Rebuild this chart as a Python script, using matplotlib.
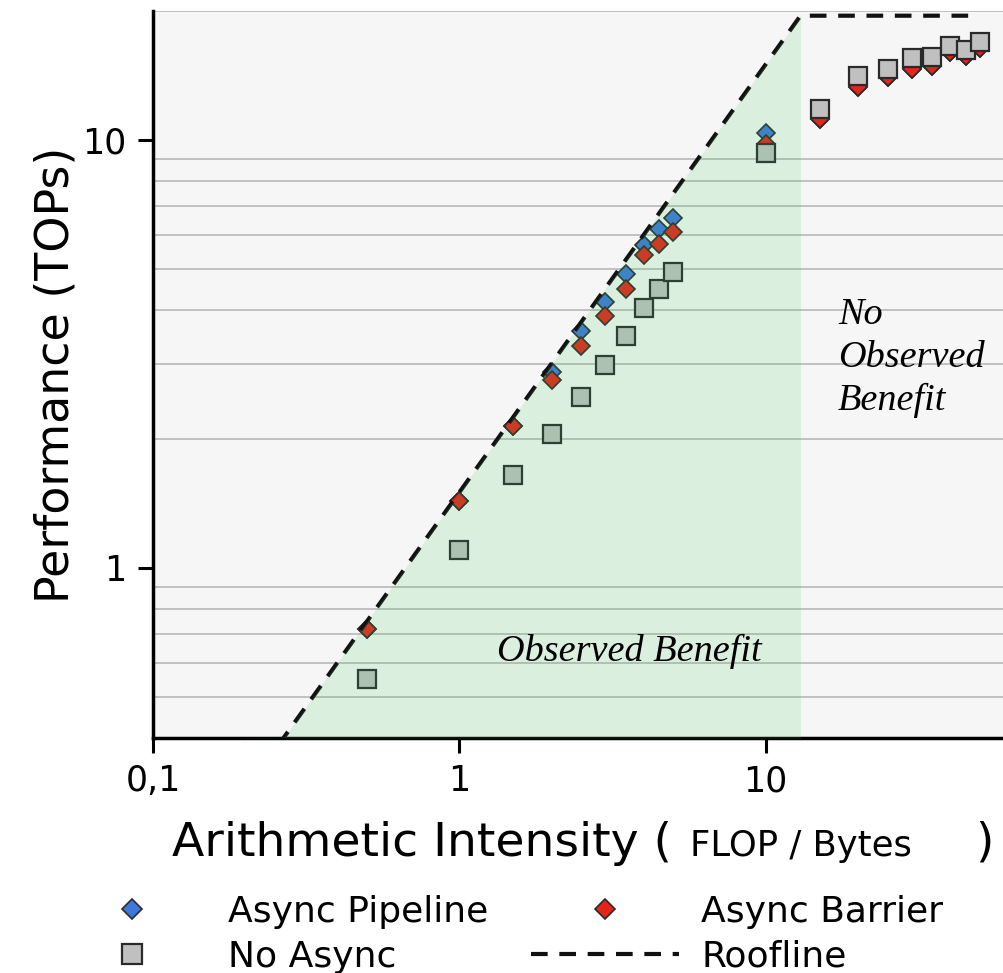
import numpy as np
import matplotlib
matplotlib.use("Agg")
import matplotlib.pyplot as plt
from matplotlib.ticker import NullFormatter, LogLocator

# data (x = FLOP/Byte, y = TOPs)
ai = [0.5, 1, 1.5, 2, 2.5, 3, 3.5, 4, 4.5, 5, 10, 15, 20, 25, 30, 35, 40, 45, 50]
pipeline = [0.72, 1.43, 2.14, 2.87, 3.57, 4.17, 4.86, 5.68, 6.18, 6.55, 10.35,
            11.2, 13.3, 14.0, 14.6, 14.9, 16.0, 15.7, 16.4]
barrier = [0.72, 1.43, 2.14, 2.74, 3.29, 3.87, 4.49, 5.38, 5.72, 6.10, 9.8,
           11.2, 13.3, 14.0, 14.6, 14.9, 16.0, 15.7, 16.4]
no_async = [0.55, 1.10, 1.65, 2.05, 2.51, 2.98, 3.48, 4.05, 4.47, 4.91, 9.3,
            11.8, 14.1, 14.6, 15.5, 15.6, 16.6, 16.2, 16.9]

roof_ai = [0.2, 13.0, 50.0]
roof_perf = [0.3, 19.5, 19.5]

W, H = 1004, 973
fig = plt.figure(figsize=(W / 100, H / 100), dpi=100)
ax = fig.add_axes([153 / W, 1 - 738 / H, 1 - 153 / W, (738 - 11) / H])
ax.set_facecolor("#f6f6f6")
ax.set_xscale("log")
ax.set_yscale("log")
ax.set_xlim(0.1, 60)
ax.set_ylim(0.4, 20)

ax.yaxis.set_minor_locator(LogLocator(subs=np.arange(2, 10)))
ax.yaxis.set_minor_formatter(NullFormatter())
ax.xaxis.set_minor_formatter(NullFormatter())
ax.yaxis.grid(True, which="minor", color="#bdbdbd", lw=1.3)
ax.set_axisbelow(True)

ax.set_xticks([0.1, 1, 10], ["0,1", "1", "10"])
ax.set_yticks([1, 10], ["1", "10"])
ax.tick_params(which="major", length=11, width=2.2, labelsize=25, pad=8)
ax.tick_params(which="minor", length=0)

for s in ["top", "right"]:
    ax.spines[s].set_visible(False)
for s in ["left", "bottom"]:
    ax.spines[s].set_linewidth(2.5)

edge = "#2a2a2a"
h1, = ax.plot(ai, pipeline, "D", ms=9.5, mfc="#3f78dc", mec=edge, mew=1.2,
              ls="none", label="Async Pipeline", zorder=3)
h2, = ax.plot(ai, barrier, "D", ms=9.5, mfc="#e3241b", mec=edge, mew=1.2,
              ls="none", label="Async Barrier", zorder=4)
h3, = ax.plot(ai, no_async, "s", ms=13, mfc="#c0c0c0", mec=edge, mew=1.6,
              ls="none", label="No Async", zorder=5)
h4, = ax.plot(roof_ai, roof_perf, color="#111111", lw=3, dashes=(4, 2.8),
              label="Roofline", zorder=6)

# shaded region under the memory-bound part of the roofline
ax.fill_between(roof_ai[:2], roof_perf[:2], 0.4, color="#3cc85a",
                alpha=0.15, lw=0, zorder=7)

ax.set_ylabel("Performance (TOPs)", fontsize=33, labelpad=3)

fig.text(172 / W, 1 - 856 / H, "Arithmetic Intensity (", fontsize=34,
         va="baseline", ha="left")
fig.text(690 / W, 1 - 856 / H, "FLOP / Bytes", fontsize=25.5,
         va="baseline", ha="left")
fig.text(975 / W, 1 - 856 / H, ")", fontsize=34, va="baseline", ha="left")

serif = ["Liberation Serif", "DejaVu Serif"]
fig.text(497 / W, 1 - 651 / H, "Observed Benefit", fontsize=27.5,
         family=serif, style="italic", va="center", ha="left")
fig.text(838 / W, 1 - 298 / H, "No\nObserved\nBenefit", fontsize=27.5,
         family=serif, style="italic", va="top", ha="left", linespacing=1.3)

fig.legend([h1, h3, h2, h4],
           ["Async Pipeline", "No Async", "Async Barrier", "Roofline"],
           loc="upper left", bbox_to_anchor=(58 / W, 1 - 895 / H), ncol=2,
           frameon=False, fontsize=26, handlelength=4.1, handletextpad=0.6,
           columnspacing=1.2, labelspacing=0.3, borderaxespad=0, borderpad=0,
           markerscale=1.12)

fig.savefig("out.png", dpi=100)
